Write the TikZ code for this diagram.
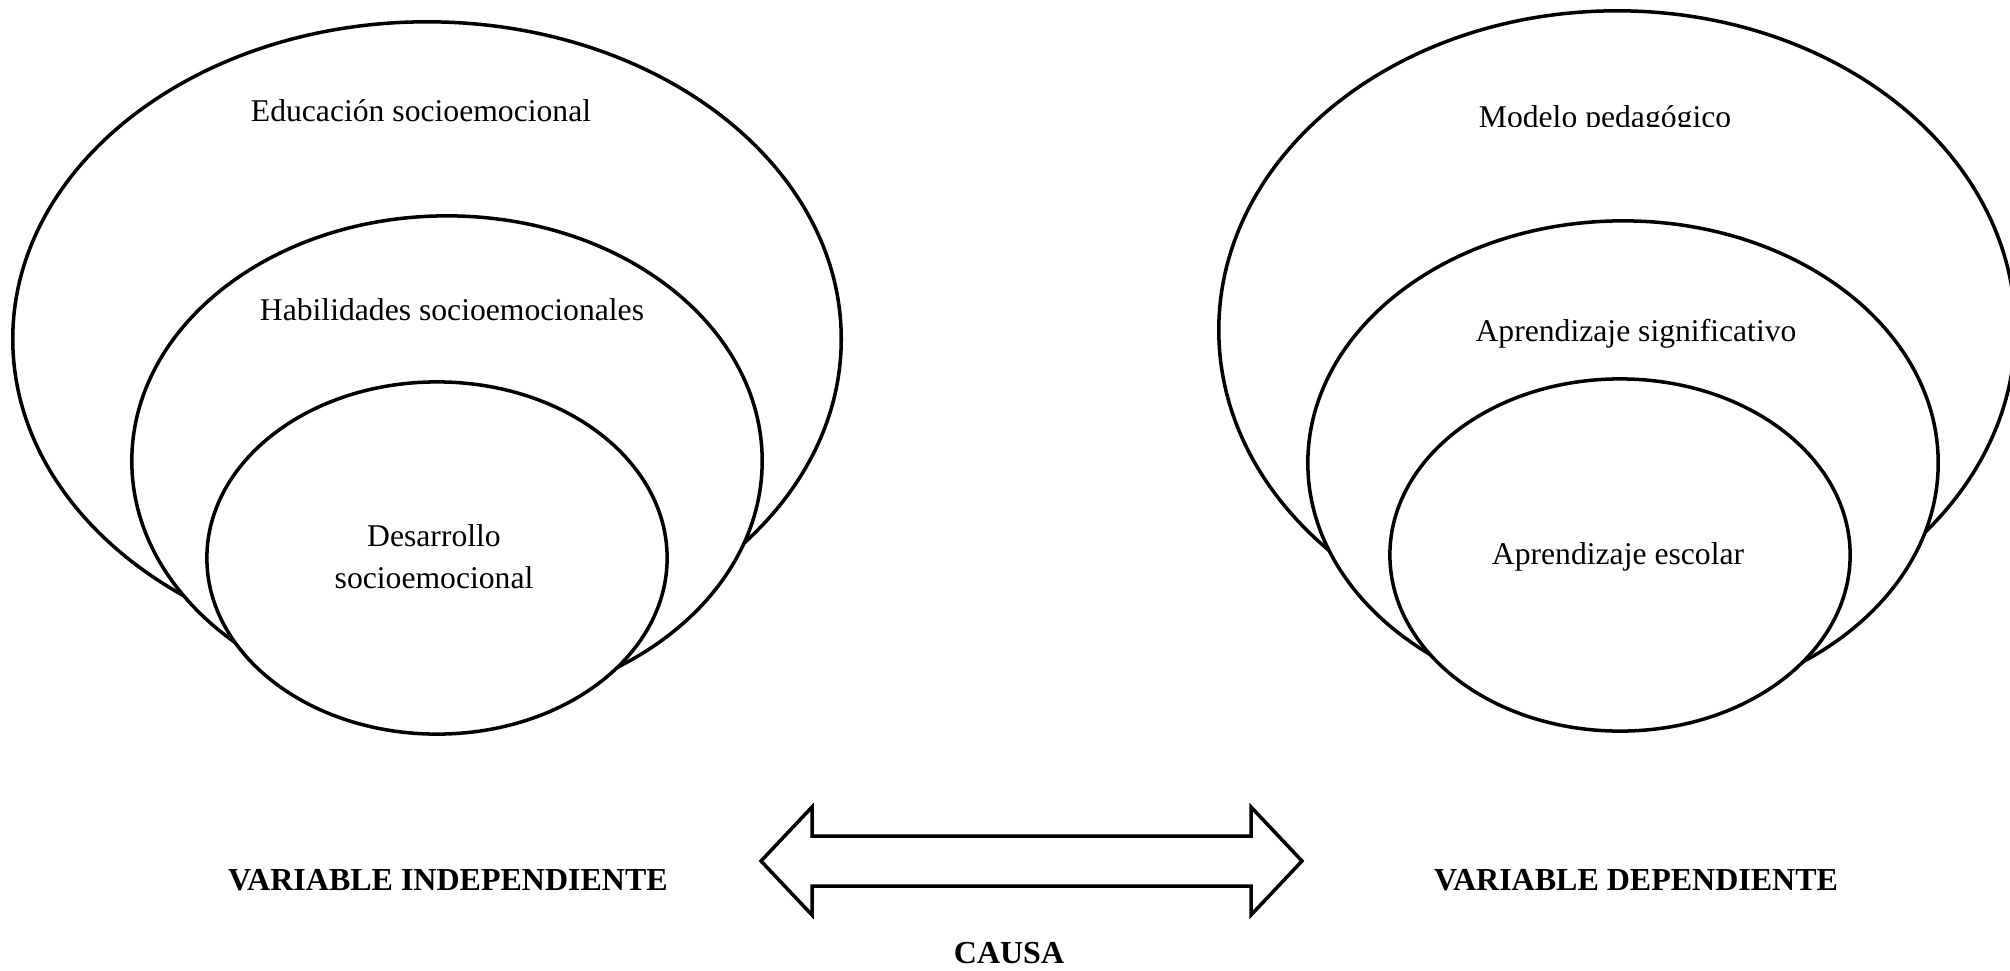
\documentclass[tikz,border=0pt]{standalone}
\usepackage{fontspec}
\setmainfont{Liberation Serif}

\tikzset{
  conjunto/.style={draw, line width=1pt, fill=white},
  etiqueta/.style={anchor=base, inner sep=0pt, font=\fontsize{9}{10.2}\selectfont},
  rotulo/.style={anchor=base, inner sep=0pt, font=\fontsize{9.1}{10}\selectfont\bfseries},
}

\begin{document}
\begin{tikzpicture}[x=0.01cm, y=-0.01cm]
        \useasboundingbox (0,0) rectangle (2010,970);
        \clip (0,0) rectangle (2010,970);

        \begin{scope}
        \draw[conjunto] (427,339) ellipse [x radius=4.14cm, y radius=3.17cm];
        \node[etiqueta] (educacion) at (421,122) {Educación socioemocional};
        \draw[conjunto] (447,461) ellipse [x radius=3.15cm, y radius=2.45cm];
        \node[etiqueta] (habilidades) at (452,320) {Habilidades socioemocionales};
        \draw[conjunto] (437,558) ellipse [x radius=2.30cm, y radius=1.76cm];
        \node[etiqueta] (desarrollo) at (434,546) {Desarrollo};
        \node[etiqueta] (desarrollo2) at (434,588) {socioemocional};
        \end{scope}

        \begin{scope}
        \draw[conjunto] (1617,330) ellipse [x radius=3.98cm, y radius=3.19cm];
            \begin{scope}
            \clip (1400,0) rectangle (1820,126.5);
            \node[etiqueta] (modelo) at (1605,128) {Modelo pedagógico};
            \end{scope}
        \draw[conjunto] (1623,463) ellipse [x radius=3.15cm, y radius=2.42cm];
        \node[etiqueta] (significativo) at (1636,341) {Aprendizaje significativo};
        \draw[conjunto] (1620,555) ellipse [x radius=2.30cm, y radius=1.76cm];
        \node[etiqueta] (escolar) at (1618,564) {Aprendizaje escolar};
        \end{scope}

        \draw[line width=1pt] (761,861) -- (812,807) -- (812,836) -- (1251,836) -- (1251,807)
            -- (1302,861) -- (1251,915) -- (1251,886) -- (812,886) -- (812,915) -- cycle;

        \node[rotulo] (independiente) at (448,890) {VARIABLE INDEPENDIENTE};
        \node[rotulo] (dependiente) at (1636,890) {VARIABLE DEPENDIENTE};
        \node[rotulo] (causa) at (1009,963) {CAUSA};
\end{tikzpicture}
\end{document}
